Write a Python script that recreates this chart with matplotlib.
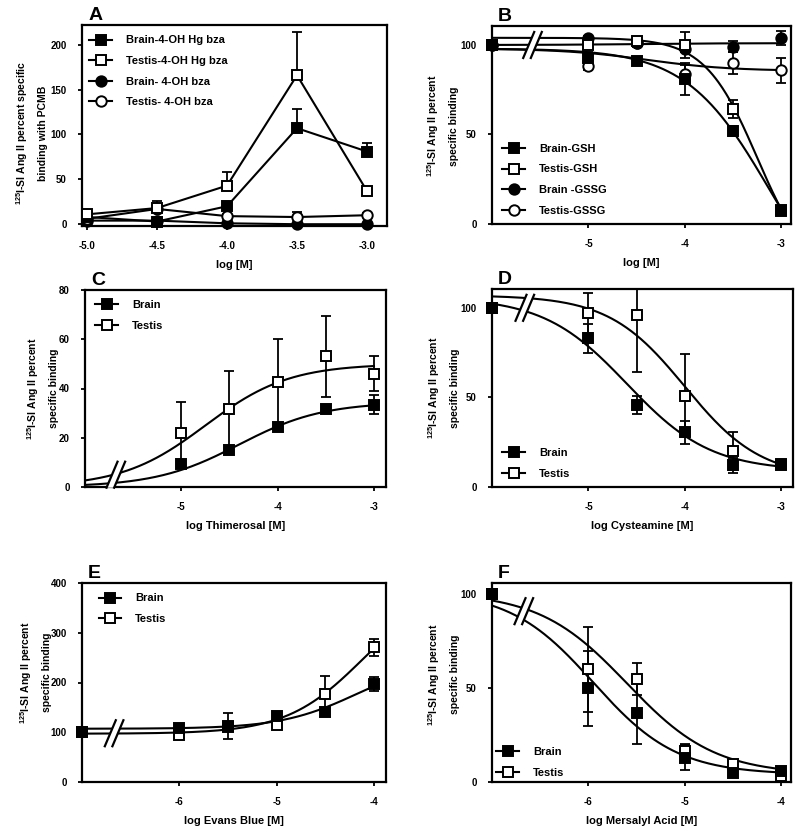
import numpy as np
import matplotlib
matplotlib.use("Agg")
import matplotlib.pyplot as plt
from matplotlib.lines import Line2D
from matplotlib.patches import Polygon
from matplotlib.transforms import ScaledTranslation

plt.rcParams["font.family"] = ["Liberation Sans", "DejaVu Sans"]
plt.rcParams["font.weight"] = "bold"
plt.rcParams["axes.unicode_minus"] = False
plt.rcParams["mathtext.fontset"] = "custom"
plt.rcParams["mathtext.rm"] = "Liberation Sans:bold"
plt.rcParams["mathtext.bf"] = "Liberation Sans:bold"
plt.rcParams["mathtext.default"] = "rm"

# ---------------- data ----------------
# A: PCMB-modified binding, points joined by straight lines
a_x = [-5.0, -4.5, -4.0, -3.5, -3.0]
a_brain_hg = [8, 3, 20, 107, 81]
a_brain_hg_err = [2, 1, 3, 21, 10]
a_testis_hg = [11, 18, 43, 166, 37]
a_testis_hg_err = [3, 8, 15, 48, 3]
a_brain_oh = [4, 4, 1, 0, 0]
a_brain_oh_err = [1, 1, 1, 1, 1]
a_testis_oh = [6, 17, 9, 8, 10]
a_testis_oh_err = [2, 3, 2, 6, 2]

# B: GSH / GSSG
b_x = [-6, -5, -4.5, -4, -3.5, -3]
b_brain_gsh = [100, 93, 91, 81, 52, 7]
b_brain_gsh_err = [0, 3, 2, 9, 3, 1]
b_testis_gsh = [100, 100, 102, 100, 64, 8]
b_testis_gsh_err = [0, 2, 2, 7, 5, 1]
b_brain_gssg = [100, 104, 101, 98, 99, 104]
b_brain_gssg_err = [0, 1, 1, 2, 3, 4]
b_testis_gssg = [100, 88, 101, 84, 90, 86]
b_testis_gssg_err = [0, 2, 2, 5, 6, 7]

# C: thimerosal
c_x = [-5, -4.5, -4, -3.5, -3]
c_brain = [9.5, 15, 24.5, 31.5, 33.5]
c_brain_err = [1, 1, 1, 1, 4]
c_testis = [22, 31.5, 42.5, 53, 46]
c_testis_err = [12.5, 15.5, 17.5, 16.5, 7]

# D: cysteamine
d_x = [-6, -5, -4.5, -4, -3.5, -3]
d_brain = [100, 83, 46, 30.5, 12, 12.5]
d_brain_err = [0, 8, 5, 6.5, 4, 2.5]
d_testis = [100, 97, 96, 51, 20, 13]
d_testis_err = [0, 11, 32, 23, 10.5, 2]

# E: Evans blue
e_x = [-7, -6, -5.5, -5, -4.5, -4]
e_brain = [100, 108, 112, 132, 140, 197]
e_brain_err = [0, 5, 26, 6, 5, 14]
e_testis = [100, 95, 110, 115, 177, 271]
e_testis_err = [0, 5, 5, 6, 36, 17]

# F: mersalyl acid
f_x = [-7, -6, -5.5, -5, -4.5, -4]
f_brain = [100, 50, 36.5, 13, 5, 6]
f_brain_err = [0, 20, 16, 6.5, 2, 2]
f_testis = [100, 60, 55, 16.5, 9.5, 3]
f_testis_err = [0, 22.5, 8.5, 4, 2, 1]

# fitted curve parameters: (left plateau, right plateau, logEC50, hill)
b_fit_brain_gsh = (98, -60, -3.12, 1.0)
b_fit_testis_gsh = (104, -30, -3.25, 1.6)
b_fit_brain_gssg = (100, 101, -4.5, 1.0)
b_fit_testis_gssg = (98, 85.5, -4.4, 1.0)
c_fit_brain = (0, 34.5, -4.4, 1.0)
c_fit_testis = (0, 50, -4.75, 1.0)
d_fit_brain = (106, 9, -4.6, 1.0)
d_fit_testis = (107, 5, -4.0, 1.1)
e_fit_brain = (107, 248, -4.17, 1.1)
e_fit_testis = (97, 398, -4.11, 1.1)
f_fit_brain = (102, 4, -5.95, 1.0)
f_fit_testis = (101, 4, -5.6, 0.95)

YLAB = "$^{125}$I-SI Ang II percent\nspecific binding"
YLAB_A = "$^{125}$I-SI Ang II percent specific\nbinding with PCMB"


def logistic(x, left, right, logec50, hill):
    return right + (left - right) / (1 + 10 ** ((x - logec50) * hill))


def series(ax, x, y, err, marker, filled, upper_only=False):
    err = np.asarray(err, dtype=float)
    yerr = [np.zeros_like(err), err] if upper_only else err
    ax.errorbar(x, y, yerr=yerr, fmt="none", ecolor="black", elinewidth=1.3,
                capsize=3.8, capthick=1.3, zorder=3)
    ax.plot(x, y, ls="none", marker=marker, ms=7.5, mew=1.4, mec="black",
            mfc="black" if filled else "white", zorder=4, clip_on=False)


def fit_line(ax, x0, x1, params):
    xs = np.linspace(x0, x1, 300)
    ax.plot(xs, logistic(xs, *params), color="black", lw=1.5, zorder=2)


def axis_break(ax, xc, yc):
    # the "//" mark GraphPad draws over the curves
    tr = ax.figure.dpi_scale_trans + ScaledTranslation(xc, yc, ax.transData)
    hh, dx, sep = 0.13, 0.055, 0.038
    gap = [(-sep - dx, -hh), (-sep + dx, hh), (sep + dx, hh), (sep - dx, -hh)]
    ax.add_patch(Polygon(gap, closed=True, transform=tr, facecolor="white",
                         edgecolor="none", zorder=5, clip_on=False))
    for s in (-sep, sep):
        ax.plot([s - dx, s + dx], [-hh, hh], transform=tr, color="black",
                lw=1.6, zorder=6, clip_on=False)


def style(ax, letter, xlabel, ylabel, ylab_x, ylab_y, xlim, ylim, xticks, yticks,
          xticklabels=None):
    ax.set_xlim(*xlim)
    ax.set_ylim(*ylim)
    ax.set_xticks(xticks)
    if xticklabels is not None:
        ax.set_xticklabels(xticklabels)
    ax.set_yticks(yticks)
    for sp in ax.spines.values():
        sp.set_linewidth(1.6)
    ax.tick_params(direction="out", length=3, width=1.3, labelsize=7, pad=8)
    for lab in ax.get_xticklabels() + ax.get_yticklabels():
        lab.set_fontweight("bold")
    ax.set_xlabel(xlabel, fontsize=8, fontweight="bold", labelpad=6)
    ax.text(ylab_x, ylab_y, ylabel, rotation=90, ha="center", va="center",
            multialignment="center", fontsize=7.5, fontweight="bold",
            transform=ax.transAxes, linespacing=2.0)
    ax.text(0.02, 1.005, letter, transform=ax.transAxes, fontsize=14,
            fontweight="bold", ha="left", va="bottom")


def legend(ax, entries, loc, anchor):
    handles = [Line2D([], [], color="black", lw=1.5, marker=m, ms=7.5, mew=1.4,
                      mec="black", mfc="black" if filled else "white")
               for _, m, filled in entries]
    ax.legend(handles, [e[0] for e in entries], loc=loc, bbox_to_anchor=anchor,
              frameon=False, fontsize=8, handlelength=2.0, handletextpad=1.3,
              labelspacing=0.95, borderaxespad=0.0)


fig = plt.figure(figsize=(8, 8.35), dpi=100)
W, H = 800, 835


def panel(left, right, top, bottom):
    return fig.add_axes([left / W, (H - bottom) / H, (right - left) / W, (bottom - top) / H])


two = [("Brain", "s", True), ("Testis", "s", False)]

# ---- A ----
ax = panel(82, 387, 25, 226)
ax.plot(a_x, a_brain_hg, color="black", lw=1.5, zorder=2)
ax.plot(a_x, a_testis_hg, color="black", lw=1.5, zorder=2)
ax.plot(a_x, a_brain_oh, color="black", lw=1.5, zorder=2)
ax.plot(a_x, a_testis_oh, color="black", lw=1.5, zorder=2)
series(ax, a_x, a_brain_oh, a_brain_oh_err, "o", True, upper_only=True)
series(ax, a_x, a_testis_oh, a_testis_oh_err, "o", False, upper_only=True)
series(ax, a_x, a_brain_hg, a_brain_hg_err, "s", True, upper_only=True)
series(ax, a_x, a_testis_hg, a_testis_hg_err, "s", False, upper_only=True)
style(ax, "A", "log [M]", YLAB_A, -0.166, 0.46, (-5.036, -2.857), (-2, 222),
      a_x, [0, 50, 100, 150, 200], ["-5.0", "-4.5", "-4.0", "-3.5", "-3.0"])
legend(ax, [("Brain-4-OH Hg bza", "s", True), ("Testis-4-OH Hg bza", "s", False),
            ("Brain- 4-OH bza", "o", True), ("Testis- 4-OH bza", "o", False)],
       "upper left", (0.01, 0.97))

# ---- B ----
ax = panel(492, 791, 26, 224)
xlim = (-6, -2.9)
fit_line(ax, xlim[0], -3, b_fit_brain_gsh)
fit_line(ax, xlim[0], -3, b_fit_testis_gsh)
fit_line(ax, xlim[0], -3, b_fit_brain_gssg)
fit_line(ax, xlim[0], -3, b_fit_testis_gssg)
series(ax, b_x, b_testis_gssg, b_testis_gssg_err, "o", False)
series(ax, b_x, b_brain_gssg, b_brain_gssg_err, "o", True)
series(ax, b_x, b_testis_gsh, b_testis_gsh_err, "s", False)
series(ax, b_x, b_brain_gsh, b_brain_gsh_err, "s", True)
axis_break(ax, -5.58, 100)
style(ax, "B", "log [M]", YLAB, -0.167, 0.495, xlim, (0, 110.6), [-5, -4, -3], [0, 50, 100])
legend(ax, [("Brain-GSH", "s", True), ("Testis-GSH", "s", False),
            ("Brain -GSSG", "o", True), ("Testis-GSSG", "o", False)],
       "lower left", (0.02, 0.02))

# ---- C ----
ax = panel(85, 386, 290, 487)
xlim = (-6, -2.875)
fit_line(ax, xlim[0], -3, c_fit_brain)
fit_line(ax, xlim[0], -3, c_fit_testis)
series(ax, c_x, c_testis, c_testis_err, "s", False)
series(ax, c_x, c_brain, c_brain_err, "s", True)
axis_break(ax, -5.68, 5)
style(ax, "C", "log Thimerosal [M]", YLAB, -0.141, 0.5, xlim, (0, 80), [-5, -4, -3],
      [0, 20, 40, 60, 80])
legend(ax, two, "upper left", (0.02, 0.97))

# ---- D ----
ax = panel(492, 793, 289, 487)
xlim = (-6, -2.88)
fit_line(ax, xlim[0], -3, d_fit_brain)
fit_line(ax, xlim[0], -3, d_fit_testis)
series(ax, d_x, d_testis, d_testis_err, "s", False)
series(ax, d_x, d_brain, d_brain_err, "s", True)
axis_break(ax, -5.66, 100)
style(ax, "D", "log Cysteamine [M]", YLAB, -0.163, 0.5, xlim, (0, 110.5), [-5, -4, -3],
      [0, 50, 100])
legend(ax, two, "lower left", (0.02, 0.02))

# ---- E ----
ax = panel(82, 386, 583, 782)
xlim = (-7, -3.875)
fit_line(ax, xlim[0], -4, e_fit_brain)
fit_line(ax, xlim[0], -4, e_fit_testis)
series(ax, e_x, e_testis, e_testis_err, "s", False)
series(ax, e_x, e_brain, e_brain_err, "s", True)
axis_break(ax, -6.67, 98)
style(ax, "E", "log Evans Blue [M]", YLAB, -0.155, 0.55, xlim, (0, 400), [-6, -5, -4],
      [0, 100, 200, 300, 400])
legend(ax, two, "upper left", (0.04, 0.97))

# ---- F ----
ax = panel(492, 791, 583, 782)
xlim = (-7, -3.9)
fit_line(ax, xlim[0], -4, f_fit_brain)
fit_line(ax, xlim[0], -4, f_fit_testis)
series(ax, f_x, f_testis, f_testis_err, "s", False)
series(ax, f_x, f_brain, f_brain_err, "s", True)
axis_break(ax, -6.67, 91)
style(ax, "F", "log Mersalyl Acid [M]", YLAB, -0.164, 0.54, xlim, (0, 106), [-6, -5, -4],
      [0, 50, 100])
legend(ax, two, "lower left", (0.0, 0.0))

fig.savefig("out.png", dpi=100)
